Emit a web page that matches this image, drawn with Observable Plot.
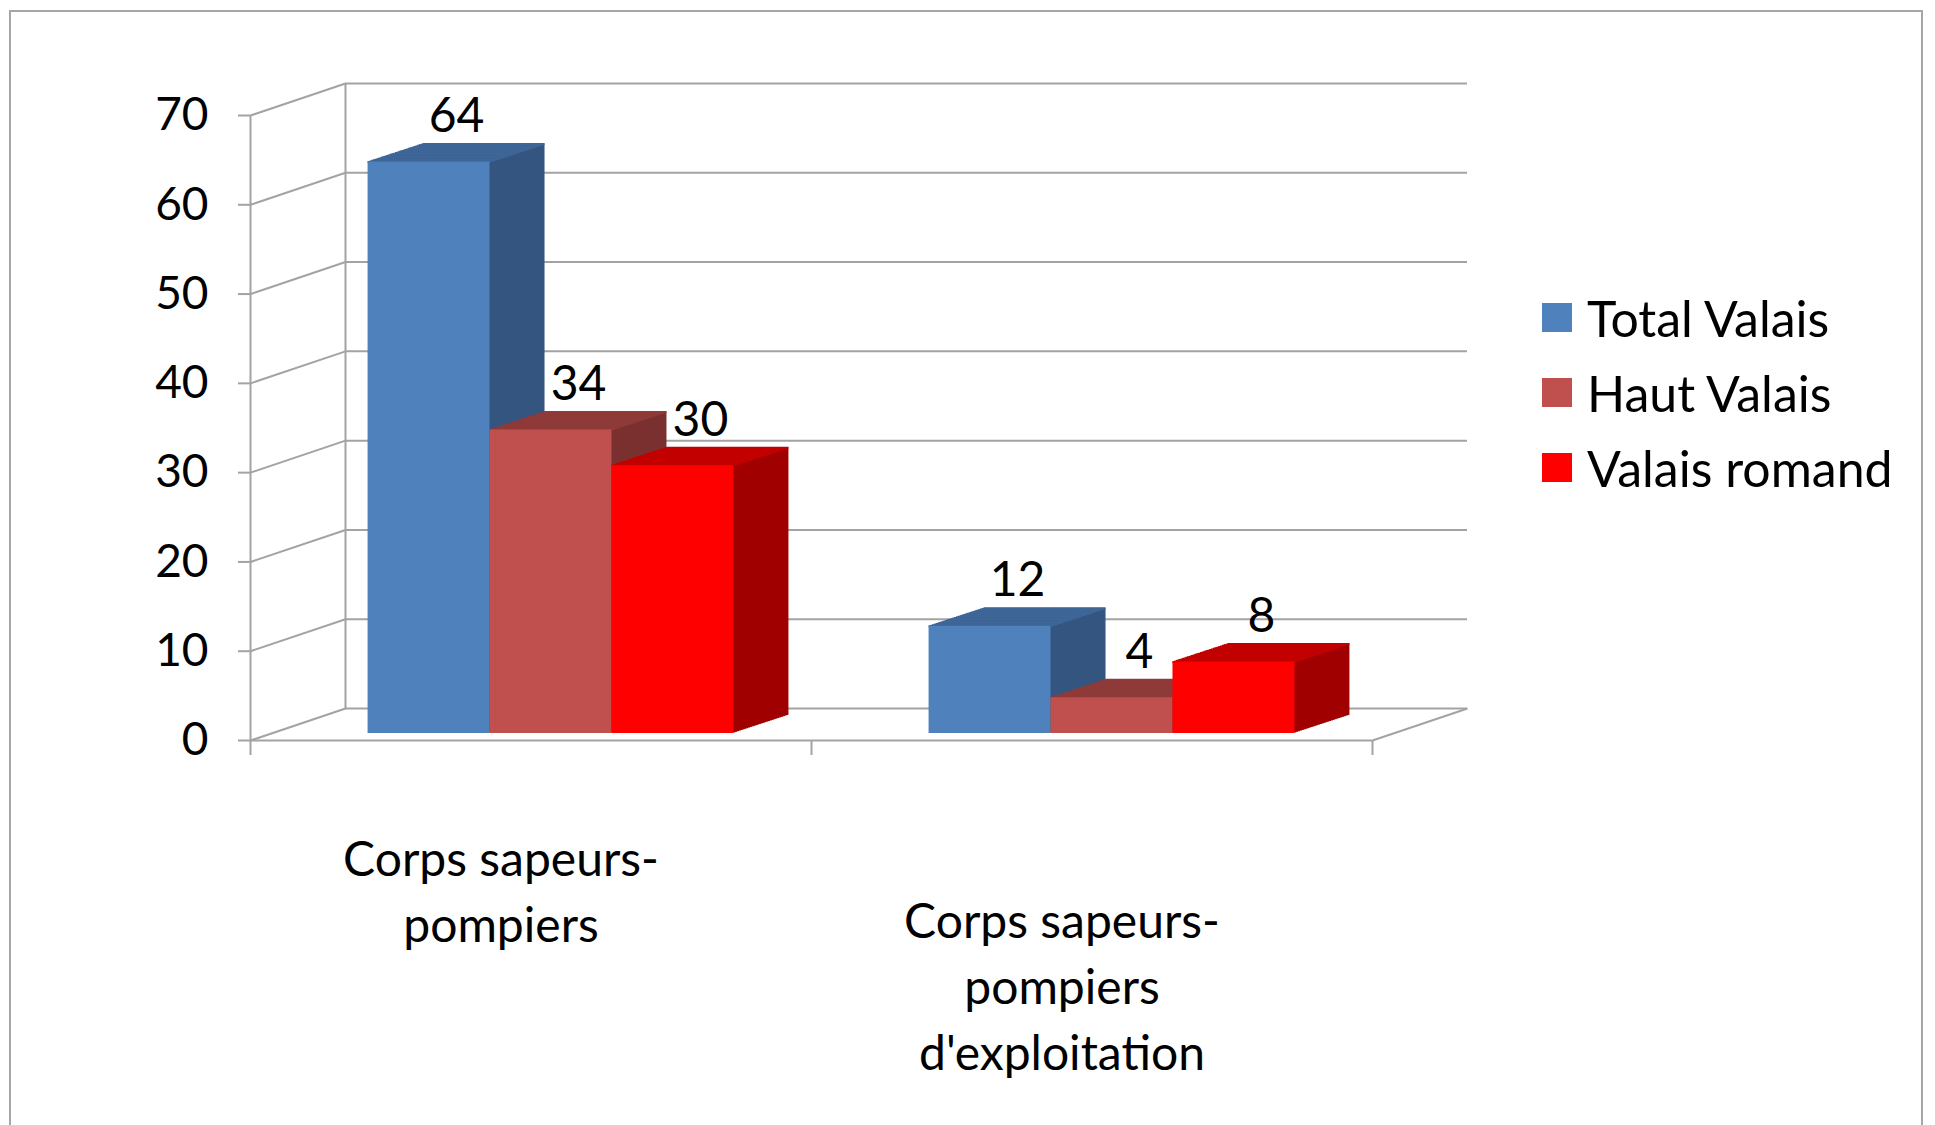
<!DOCTYPE html>
<html>
<head>
<meta charset="utf-8">
<script src="https://cdn.jsdelivr.net/npm/d3@7"></script>
<script src="https://cdn.jsdelivr.net/npm/@observablehq/plot@0.6"></script>
<style>
html, body { margin: 0; padding: 0; background: #fff; width: 1935px; height: 1125px; overflow: hidden; font-family: Lato, "Open Sans", sans-serif; }
#frame { position: absolute; left: 9px; top: 10px; width: 1914px; height: 1140px; border: 2px solid #a6a6a6; box-sizing: border-box; }
#chart { position: absolute; left: 0; top: 0; }
#legend { position: absolute; left: 1542px; top: 280px; }
.row { display: flex; align-items: center; height: 75px; font-size: 50px; color: #000; white-space: nowrap; }
.sw { width: 30px; height: 29px; margin-right: 15px; flex: none; }
</style>
</head>
<body>
<div id="frame"></div>
<div id="chart"></div>
<div id="legend"></div>
<script>
// ---- data ----
const categories = ["Corps sapeurs-pompiers", "Corps sapeurs-pompiers d'exploitation"];
const categoryLabels = ["Corps sapeurs-\npompiers", "Corps sapeurs-\npompiers\nd'exploitation"];
const series = ["Total Valais", "Haut Valais", "Valais romand"];
const totalValais = [64, 12];
const hautValais = [34, 4];
const valaisRomand = [30, 8];
const yTicks = [0, 10, 20, 30, 40, 50, 60, 70];

// ---- styling ----
const frontColors = ["#4F81BD", "#C0504D", "#FF0000"];
const topColors   = ["#3E6696", "#8E3B39", "#C20000"];
const sideColors  = ["#33557F", "#7A302E", "#A00000"];
const gridColor = "#a3a3a3";

const W = 1510, H = 1110, mL = 250, mR = 138, mT = 115, mB = 370;
const XMAX = 9.2, C = XMAX / categories.length;
const kx = (W - mL - mR) / XMAX;
const ky = (H - mT - mB) / 70;
const WDX = 95, WDY = 32;      // wall/floor depth (px)
const BOX = 20, BOY = -7;      // bar front offset into the floor (px)
const BDX = 55, BDY = 18;      // bar depth (px)
const N = 30;                  // extrusion layers
const FS = 48;
const labelDy = [88, 150];     // vertical offset of each category label (px)

const seriesValues = [totalValais, hautValais, valaisRomand];
const rows = categories.flatMap((c, i) => series.map((s, j) => ({
  category: c, series: s, j, value: seriesValues[j][i],
  x1: C * i + 0.8 + j, x2: C * i + 1.8 + j
})));

const marks = [
  // back wall gridlines
  Plot.ruleY(yTicks, {y: d => d, x1: 0, x2: XMAX, dx: WDX, dy: -WDY, stroke: gridColor, strokeWidth: 2}),
  // back wall left edge
  Plot.ruleX([0], {x: d => d, y1: 0, y2: 70, dx: WDX, dy: -WDY, stroke: gridColor, strokeWidth: 2}),
  // left wall diagonal lines
  Plot.link(yTicks, {x1: 0, y1: d => d, x2: WDX / kx, y2: d => d + WDY / ky, stroke: gridColor, strokeWidth: 2}),
  // floor right edge
  Plot.link([0], {x1: XMAX, y1: d => d, x2: XMAX + WDX / kx, y2: d => d + WDY / ky, stroke: gridColor, strokeWidth: 2}),
  // floor front edge (category axis)
  Plot.ruleY([0], {y: d => d, x1: 0, x2: XMAX, stroke: gridColor, strokeWidth: 2}),
  // front value axis line
  Plot.ruleX([0], {x: d => d, y1: 0, y2: 70, stroke: gridColor, strokeWidth: 2}),
  // value axis ticks
  Plot.ruleY(yTicks, {y: d => d, x1: 0, x2: -12 / kx, stroke: gridColor, strokeWidth: 2}),
  // category axis ticks
  Plot.ruleX(d3.range(categories.length + 1).map(i => i * C), {x: d => d, y1: 0, y2: -15 / ky, stroke: gridColor, strokeWidth: 2}),
  // value axis labels
  Plot.text(yTicks, {x: 0, y: d => d, text: d => String(d), textAnchor: "end", dx: -42, fontSize: 46, fill: "#000"})
];

// 3D bars, drawn series by series so that later bars cover earlier ones
series.forEach((s, j) => {
  const data = rows.filter(r => r.j === j);
  for (let k = 1; k <= N; k++) {
    marks.push(Plot.rect(data, {x1: "x1", x2: "x2", y1: 0, y2: "value", fill: sideColors[j],
      dx: BOX + k * BDX / N, dy: BOY - k * BDY / N}));
  }
  for (let k = 0; k <= N; k++) {
    marks.push(Plot.ruleY(data, {y: "value", x1: "x1", x2: "x2", stroke: topColors[j], strokeWidth: 2,
      dx: BOX + k * BDX / N, dy: BOY - k * BDY / N}));
  }
  marks.push(Plot.rect(data, {x1: "x1", x2: "x2", y1: 0, y2: "value", fill: frontColors[j], dx: BOX, dy: BOY}));
});

// value labels
marks.push(Plot.text(rows, {x: d => (d.x1 + d.x2) / 2, y: "value", text: d => String(d.value),
  dx: BOX + BDX / 2, dy: BOY - BDY - 12, lineAnchor: "bottom", fontSize: FS, fill: "#000"}));

// category labels
categories.forEach((c, i) => {
  marks.push(Plot.text([c], {x: C * (i + 0.5), y: 0, text: () => categoryLabels[i],
    dx: -30, dy: labelDy[i], lineAnchor: "top", lineHeight: 1.38, fontSize: FS, fill: "#000"}));
});

const chart = Plot.plot({
  width: W, height: H,
  marginLeft: mL, marginRight: mR, marginTop: mT, marginBottom: mB,
  x: {domain: [0, XMAX], axis: null},
  y: {domain: [0, 70], axis: null},
  style: {fontFamily: "Lato, 'Open Sans', sans-serif", fontSize: FS + "px", background: "transparent", overflow: "visible"},
  marks
});
document.getElementById("chart").appendChild(chart);

// legend
const lg = d3.select("#legend");
series.forEach((s, j) => {
  const row = lg.append("div").attr("class", "row");
  row.append("div").attr("class", "sw").style("background", frontColors[j]);
  row.append("span").text(s);
});
</script>
</body>
</html>
